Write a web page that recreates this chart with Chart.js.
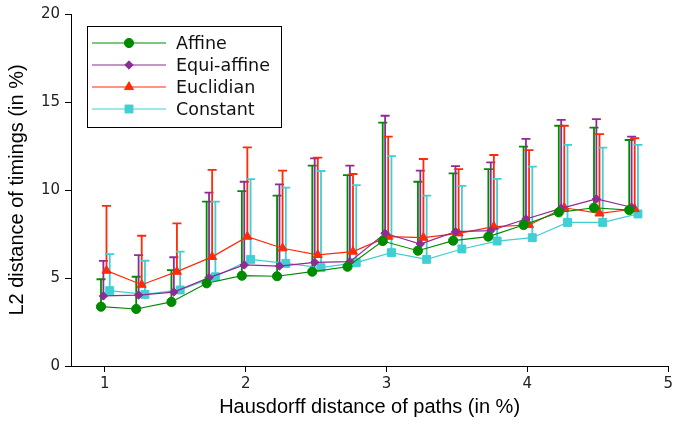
<!DOCTYPE html>
<html>
<head>
<meta charset="utf-8">
<script src="https://cdn.jsdelivr.net/npm/chart.js@4.4.1/dist/chart.umd.min.js"></script>
<style>
  html, body { margin: 0; padding: 0; background: #fff; }
  #wrap { width: 676px; height: 425px; }
</style>
</head>
<body>
<div id="wrap"><canvas id="chart"></canvas></div>
<script>
// x positions (Hausdorff distance of paths, %)
const hausdorff = [1, 1.25, 1.5, 1.75, 2, 2.25, 2.5, 2.75, 3, 3.25, 3.5, 3.75, 4, 4.25, 4.5, 4.75];

// mean values and top of error bars (L2 distance of timings, %)
const affine      = [3.37, 3.24, 3.64, 4.70, 5.13, 5.10, 5.36, 5.64, 7.10, 6.55, 7.12, 7.35, 8.01, 8.73, 8.99, 8.86];
const affineTop   = [4.93, 5.07, 5.45, 9.34, 9.94, 9.68, 11.38, 10.85, 13.83, 10.47, 10.95, 11.19, 12.46, 13.65, 13.54, 12.84];
const equiAffine  = [3.98, 4.03, 4.20, 5.02, 5.74, 5.68, 5.89, 5.93, 7.54, 6.93, 7.63, 7.69, 8.35, 8.96, 9.49, 9.02];
const equiTop     = [5.97, 6.30, 6.18, 9.85, 10.47, 10.32, 11.80, 11.38, 14.22, 11.10, 11.36, 11.57, 12.90, 13.98, 14.03, 13.03];
const euclidian   = [5.42, 4.62, 5.36, 6.20, 7.35, 6.69, 6.31, 6.50, 7.35, 7.29, 7.54, 7.92, 8.01, 8.99, 8.67, 8.92];
const euclTop     = [9.10, 7.40, 8.10, 11.14, 12.42, 11.10, 11.84, 10.91, 13.03, 11.76, 11.19, 11.99, 12.27, 13.65, 13.18, 12.94];
const constant    = [4.28, 4.07, 4.32, 5.07, 6.06, 5.83, 5.59, 5.87, 6.44, 6.06, 6.65, 7.10, 7.29, 8.16, 8.16, 8.64];
const constTop    = [6.36, 5.98, 6.50, 9.34, 10.62, 10.13, 11.08, 10.28, 11.93, 9.68, 10.23, 10.63, 11.33, 12.56, 12.41, 12.56];

const xTicks = [1, 2, 3, 4, 5];
const yTicks = [0, 5, 10, 15, 20];

const SERIES = [
  { label: 'Affine',      vals: affine,     tops: affineTop, color: '#008a00', style: 'circle',   r: 4.6, dx: -0.027 },
  { label: 'Equi-affine', vals: equiAffine, tops: equiTop,   color: '#902a94', style: 'rectRot',  r: 4.2, dx: -0.01 },
  { label: 'Euclidian',   vals: euclidian,  tops: euclTop,   color: '#ff2a08', style: 'triangle', r: 5.2, dx: 0.012 },
  { label: 'Constant',    vals: constant,   tops: constTop,  color: '#3fcfd5', style: 'rect',     r: 5.6, dx: 0.035 },
];

const datasets = SERIES.map(s => ({
  label: s.label,
  data: hausdorff.map((x, i) => ({ x: x + s.dx, y: s.vals[i], top: s.tops[i] })),
  showLine: true,
  borderColor: s.color,
  backgroundColor: s.color,
  borderWidth: 1.2,
  pointStyle: s.style,
  pointRadius: s.r,
  pointBorderWidth: 1,
  pointBackgroundColor: s.color,
  pointBorderColor: s.color,
}));

// one-sided (upper) error bars, drawn under the markers
const errorBars = {
  id: 'errorBars',
  beforeDatasetsDraw(chart) {
    const { ctx, scales: { x, y } } = chart;
    ctx.save();
    chart.data.datasets.forEach(ds => {
      ctx.strokeStyle = ds.borderColor;
      ctx.lineWidth = 1.8;
      ds.data.forEach(p => {
        const px = x.getPixelForValue(p.x);
        const y0 = y.getPixelForValue(p.y);
        const y1 = y.getPixelForValue(p.top);
        ctx.beginPath();
        ctx.moveTo(px, y0); ctx.lineTo(px, y1);
        ctx.moveTo(px - 4.5, y1); ctx.lineTo(px + 4.5, y1);
        ctx.stroke();
      });
    });
    ctx.restore();
  }
};

// matplotlib-like legend box with line + marker samples
const boxLegend = {
  id: 'boxLegend',
  afterDraw(chart) {
    const ctx = chart.ctx;
    const bx = 87.5, by = 26.5, bw = 194, bh = 101;
    ctx.save();
    ctx.fillStyle = '#fff';
    ctx.fillRect(bx, by, bw, bh);
    ctx.strokeStyle = '#000';
    ctx.lineWidth = 1;
    ctx.strokeRect(bx, by, bw, bh);
    ctx.font = '17.5px "DejaVu Sans"';
    ctx.textBaseline = 'middle';
    chart.data.datasets.forEach((ds, i) => {
      const ry = 43 + i * 22;
      ctx.strokeStyle = ds.borderColor;
      ctx.lineWidth = 1.2;
      ctx.beginPath(); ctx.moveTo(92, ry); ctx.lineTo(166, ry); ctx.stroke();
      ctx.fillStyle = ds.borderColor;
      ctx.lineWidth = 1;
      Chart.helpers.drawPoint(ctx, { pointStyle: ds.pointStyle, radius: ds.pointRadius, borderWidth: 1, rotation: 0 }, 129, ry);
      ctx.fillStyle = '#111';
      ctx.fillText(ds.label, 176, ry + 1);
    });
    ctx.restore();
  }
};

new Chart(document.getElementById('chart'), {
  type: 'scatter',
  data: { datasets },
  plugins: [errorBars, boxLegend],
  options: {
    responsive: true, maintainAspectRatio: false, animation: false,
    layout: { padding: { top: 14, right: 5, left: 0, bottom: 0 } },
    plugins: { legend: { display: false }, tooltip: { enabled: false } },
    scales: {
      x: {
        type: 'linear', min: 0.76, max: 5,
        afterBuildTicks: s => { s.ticks = xTicks.map(v => ({ value: v })); },
        afterFit: s => { s.height = 59; },
        grid: { display: true, drawOnChartArea: false, drawTicks: true, tickLength: 6, color: '#000' },
        border: { display: true, color: '#000', width: 1 },
        ticks: { font: { family: 'DejaVu Sans', size: 15 }, color: '#222', padding: 3, maxRotation: 0 },
        title: { display: true, text: 'Hausdorff distance of paths (in %)', font: { family: 'Liberation Sans', size: 20 }, color: '#000', padding: { top: 0, bottom: 6 } }
      },
      y: {
        type: 'linear', min: 0, max: 20,
        afterBuildTicks: s => { s.ticks = yTicks.map(v => ({ value: v })); },
        afterFit: s => { s.width = 71; },
        grid: { display: true, drawOnChartArea: false, drawTicks: true, tickLength: 6, color: '#000' },
        border: { display: true, color: '#000', width: 1 },
        ticks: { font: { family: 'DejaVu Sans', size: 15 }, color: '#222', padding: 5 },
        title: { display: true, text: 'L2 distance of timings (in %)', font: { family: 'Liberation Sans', size: 20 }, color: '#000', padding: { top: 5, bottom: 0 } }
      }
    }
  }
});
</script>
</body>
</html>
